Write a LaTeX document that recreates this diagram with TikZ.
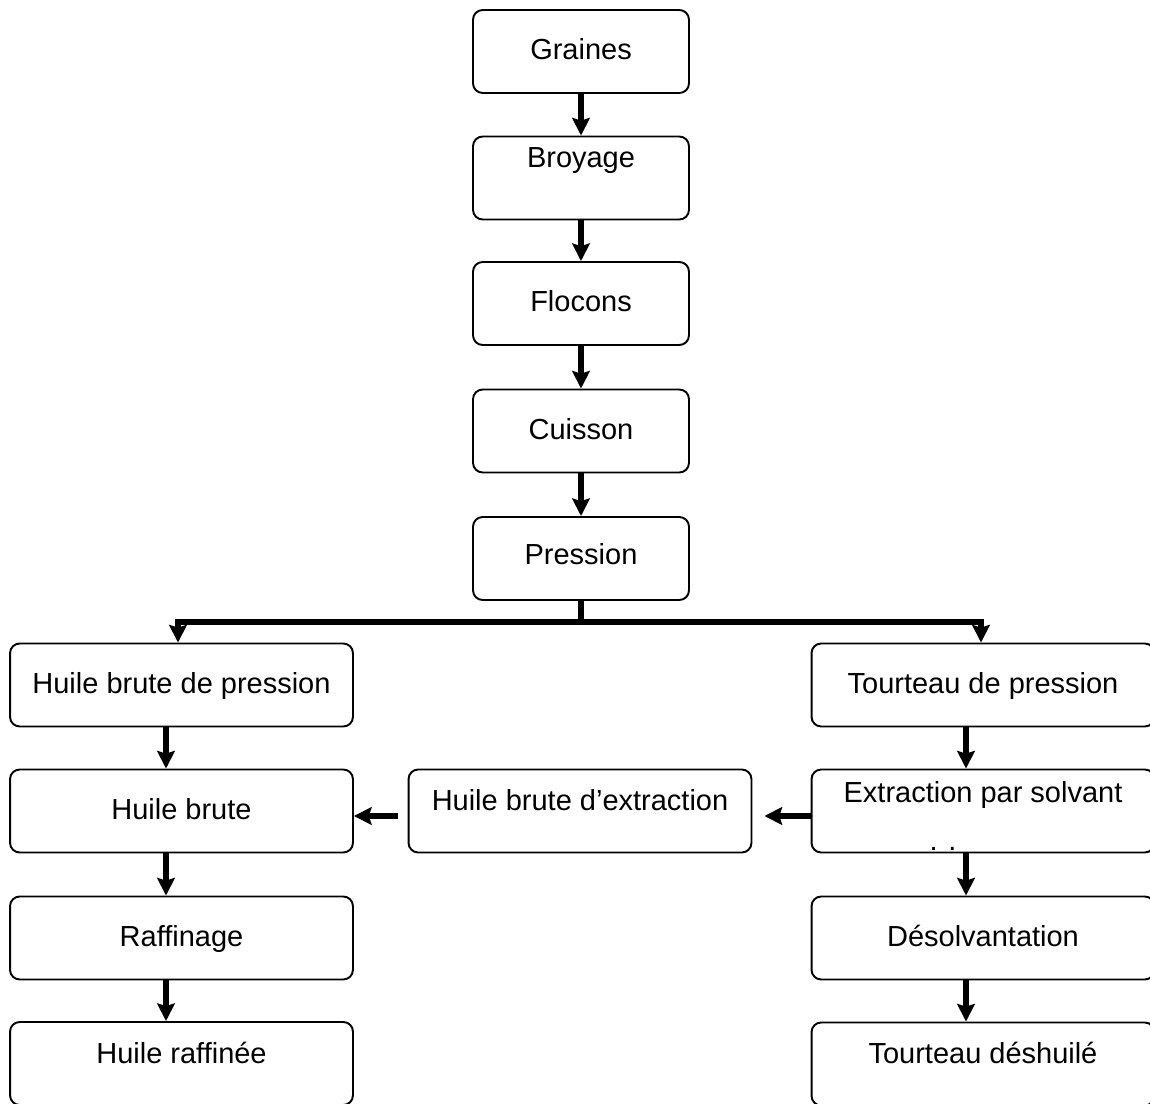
\documentclass[tikz,border=0pt]{standalone}
\usepackage{fontspec}
\setmainfont{Liberation Sans}
\usetikzlibrary{arrows.meta}
\usetikzlibrary{calc}

\tikzset{
  box/.style={draw, line width=1.1pt, rounded corners=5.5pt, minimum width=4.32cm, minimum height=1.66cm, inner ysep=0pt, text height=1cm, text depth=0.66cm, font=\fontsize{16.5}{19.8}\selectfont},
  wide/.style={box, minimum width=6.86cm},
  flow/.style={line width=3pt, -{Stealth[length=10pt,width=10pt,inset=1.5pt]}},
}

\begin{document}
\begin{tikzpicture}[x=0.02cm,y=-0.02cm]

\useasboundingbox (0,0) rectangle (1150,1104);
\clip (0,0) rectangle (1150,1104);

\node[box] (v1) at (581,51.5) {Graines};
\node[box, text height=0.62cm, text depth=1.04cm] (v2) at (581,178) {Broyage};
\node[box] (v3) at (581,303.5) {Flocons};
\node[box] (v4) at (581,431) {Cuisson};
\node[box, text height=0.96cm, text depth=0.7cm] (v5) at (581,558.5) {Pression};
\node[wide] (v6) at (181.5,685) {Huile brute de pression};
\node[wide] (v7) at (983,685) {Tourteau de pression};
\node[wide] (v8) at (181.5,811) {Huile brute};
\node[wide, text height=0.82cm, text depth=0.84cm] (v9) at (580,811) {Huile brute d’extraction};
\node[wide, text height=0.66cm, text depth=1cm] (v10) at (983,811) {Extraction par solvant};
\node[anchor=base, font=\fontsize{16.5}{19.8}\selectfont] (v15) at (943,850) {. .};
\node[wide] (v11) at (181.5,938) {Raffinage};
\node[wide] (v12) at (983,938) {Désolvantation};
\node[wide, text height=0.82cm, text depth=0.84cm] (v13) at (181.5,1063.5) {Huile raffinée};
\node[wide, text height=0.82cm, text depth=0.84cm] (v14) at (983,1064) {Tourteau déshuilé};

\coordinate (f1) at (581,622);
\coordinate (l0) at (178,0);
\coordinate (r0) at (981,0);
\coordinate (l1) at (166,0);
\coordinate (r1) at (966,0);
\coordinate (h1) at (0,816);

\draw [flow] (v1) -- (v2);
\draw [flow] (v2) -- (v3);
\draw [flow] (v3) -- (v4);
\draw [flow] (v4) -- (v5);
\draw [line width=3pt] (v5.south) -- (f1);
\draw [flow] (f1) -| (v6.north -| l0);
\draw [flow] (f1) -| (v7.north -| r0);
\draw [flow] (v6.south -| l1) -- (v8.north -| l1);
\draw [flow] (v8.south -| l1) -- (v11.north -| l1);
\draw [flow] (v11.south -| l1) -- (v13.north -| l1);
\draw [flow] (v7.south -| r1) -- (v10.north -| r1);
\draw [flow] (v10.south -| r1) -- (v12.north -| r1);
\draw [flow] (v12.south -| r1) -- (v14.north -| r1);
\draw [flow] (v10.west |- h1) -- ($(v9.east |- h1)+(12,0)$);
\draw [flow] ($(v9.west |- h1)+(-10,0)$) -- (v8.east |- h1);
\end{tikzpicture}
\end{document}
